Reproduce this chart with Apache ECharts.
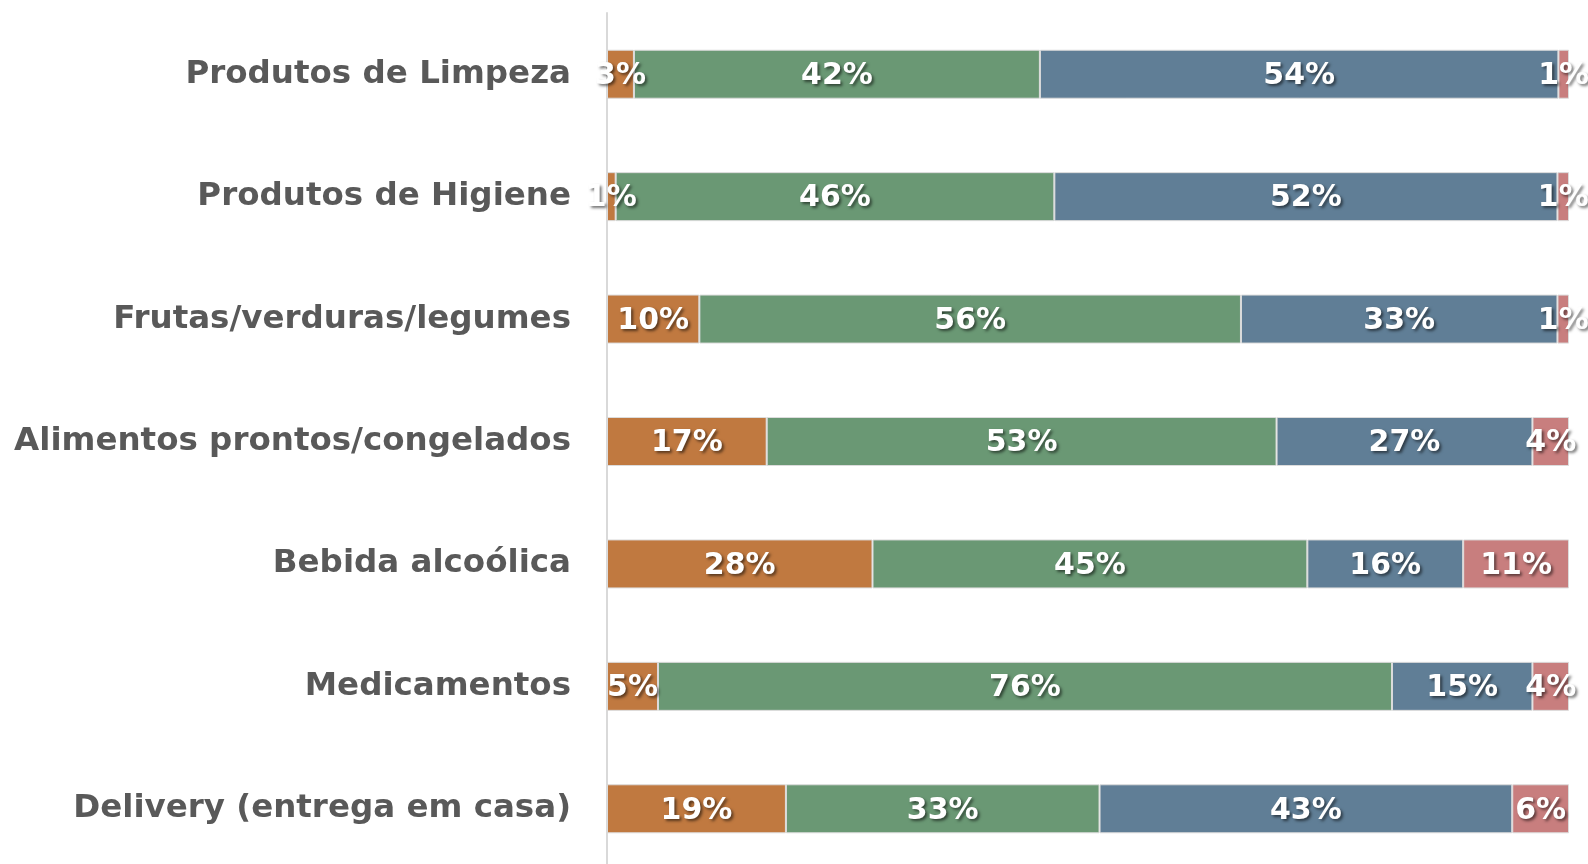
<!DOCTYPE html>
<html>
<head>
<meta charset="utf-8">
<script src="https://cdn.jsdelivr.net/npm/echarts@6/dist/echarts.min.js"></script>
<style>
  html, body {margin: 0; padding: 0; background: #fff;}
  #chart {width: 1588px; height: 864px;}
</style>
</head>
<body>
<div id="chart"></div>
<script>
var categories = [
  'Produtos de Limpeza',
  'Produtos de Higiene',
  'Frutas/verduras/legumes',
  'Alimentos prontos/congelados',
  'Bebida alcoólica',
  'Medicamentos',
  'Delivery (entrega em casa)'
];
var serie1 = [2.8, 0.9, 9.6, 16.6, 27.6, 5.3, 18.6];
var serie2 = [42.2, 45.6, 56.3, 53.0, 45.2, 76.3, 32.6];
var serie3 = [53.9, 52.3, 32.9, 26.6, 16.2, 14.6, 42.9];
var serie4 = [1.1, 1.2, 1.2, 3.8, 11.0, 3.8, 5.9];
var colors = ['#C07940', '#6A9874', '#607E96', '#C87E7E'];

var myChart = echarts.init(document.getElementById('chart'));

function makeSeries(name, data, color) {
  return {
    name: name,
    type: 'bar',
    stack: 'total',
    data: data,
    barWidth: 49,
    itemStyle: {color: color, borderColor: '#dcdcdc', borderWidth: 1},
    label: {
      show: true,
      position: 'inside',
      color: '#fff',
      fontFamily: 'DejaVu Sans',
      fontWeight: 'bold',
      fontSize: 30,
      offset: [0, 2],
      textShadowColor: 'rgba(0,0,0,0.55)',
      textShadowBlur: 3,
      textShadowOffsetX: 2,
      textShadowOffsetY: 2,
      formatter: function (p) { return Math.round(p.value) + '%'; }
    }
  };
}

myChart.setOption({
  animation: false,
  grid: {left: 607, right: 19, top: 13, height: 857, outerBoundsMode: 'none', containLabel: false},
  xAxis: {
    type: 'value',
    min: 0,
    max: 100,
    show: false
  },
  yAxis: {
    type: 'category',
    inverse: true,
    data: categories,
    axisTick: {show: false},
    axisLine: {show: true, lineStyle: {color: '#d9d9d9', width: 2}},
    axisLabel: {
      color: '#595959',
      fontFamily: 'DejaVu Sans',
      fontWeight: 'bold',
      fontSize: 32.5,
      margin: 36,
      padding: [9, 0, 0, 0]
    }
  },
  series: [
    makeSeries('Série 1', serie1, colors[0]),
    makeSeries('Série 2', serie2, colors[1]),
    makeSeries('Série 3', serie3, colors[2]),
    makeSeries('Série 4', serie4, colors[3])
  ]
});
</script>
</body>
</html>
